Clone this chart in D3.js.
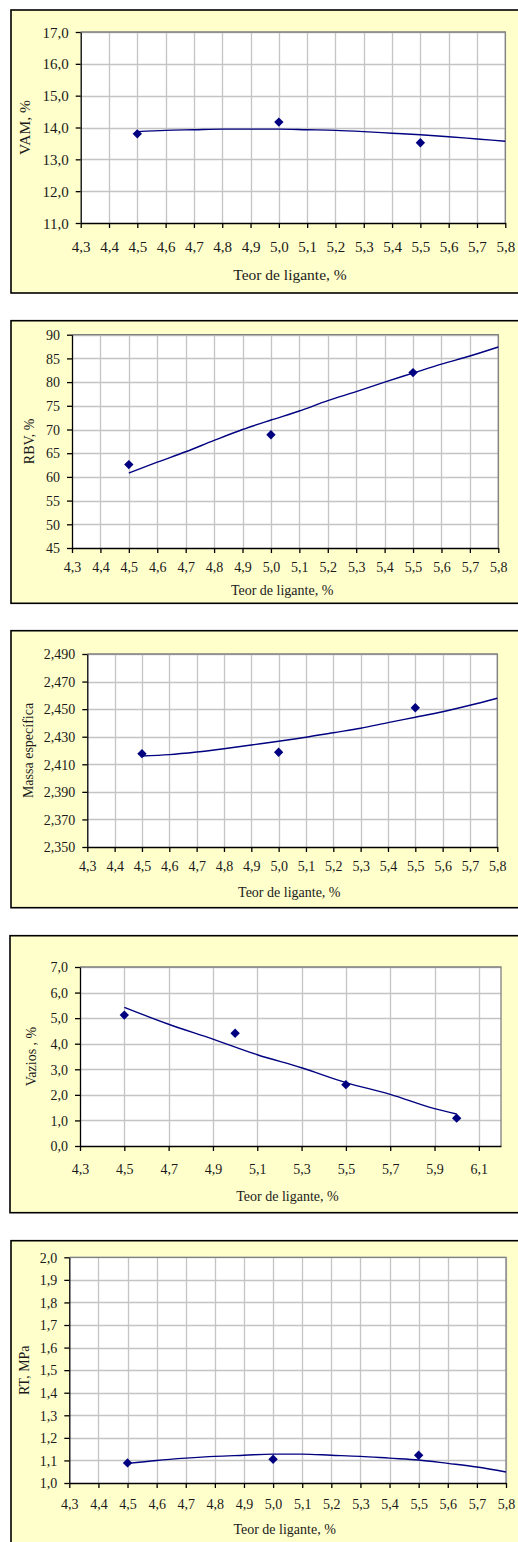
<!DOCTYPE html>
<html>
<head>
<meta charset="utf-8">
<script src="https://cdn.jsdelivr.net/npm/d3@7"></script>
<style>
  html, body { margin: 0; padding: 0; background: #ffffff; }
  svg { display: block; }
  .tick text { font-family: "Liberation Serif", "Times New Roman", serif; fill: #1a1a1a; }
</style>
</head>
<body>
<svg id="chart" width="518" height="1542"></svg>
<script>
// ---- Data: binder content (Teor de ligante, %) vs. mix properties ----
const xLabel = "Teor de ligante, %";

// VAM, %
const vamX = [4.5, 5.0, 5.5];
const vamY = [13.80, 14.17, 13.52];
const vamTrendX = [4.5, 4.6, 4.7, 4.8, 4.9, 5.0, 5.1, 5.2, 5.3, 5.4, 5.5, 5.6, 5.7, 5.8];
const vamTrendY = [13.87, 13.91, 13.93, 13.95, 13.95, 13.95, 13.93, 13.91, 13.87, 13.82, 13.77, 13.71, 13.64, 13.57];
const vamXTicks = [4.3, 4.4, 4.5, 4.6, 4.7, 4.8, 4.9, 5.0, 5.1, 5.2, 5.3, 5.4, 5.5, 5.6, 5.7, 5.8];
const vamYTicks = [11, 12, 13, 14, 15, 16, 17];

// RBV, %
const rbvX = [4.5, 5.0, 5.5];
const rbvY = [62.6, 68.9, 82.0];
const rbvTrendX = [4.5, 4.6, 4.7, 4.8, 4.9, 5.0, 5.1, 5.2, 5.3, 5.4, 5.5, 5.6, 5.7, 5.8];
const rbvTrendY = [60.8, 63.1, 65.3, 67.7, 70.0, 72.0, 73.9, 76.1, 78.0, 80.0, 81.9, 83.8, 85.5, 87.4];
const rbvXTicks = [4.3, 4.4, 4.5, 4.6, 4.7, 4.8, 4.9, 5.0, 5.1, 5.2, 5.3, 5.4, 5.5, 5.6, 5.7, 5.8];
const rbvYTicks = [45, 50, 55, 60, 65, 70, 75, 80, 85, 90];

// Massa específica
const massaX = [4.5, 5.0, 5.5];
const massaY = [2.4177, 2.4187, 2.4510];
const massaTrendX = [4.5, 4.6, 4.7, 4.8, 4.9, 5.0, 5.1, 5.2, 5.3, 5.4, 5.5, 5.6, 5.7, 5.8];
const massaTrendY = [2.4160, 2.4170, 2.4189, 2.4213, 2.4240, 2.4267, 2.4296, 2.4329, 2.4361, 2.4402, 2.4441, 2.4481, 2.4528, 2.4579];
const massaXTicks = [4.3, 4.4, 4.5, 4.6, 4.7, 4.8, 4.9, 5.0, 5.1, 5.2, 5.3, 5.4, 5.5, 5.6, 5.7, 5.8];
const massaYTicks = [2.35, 2.37, 2.39, 2.41, 2.43, 2.45, 2.47, 2.49];

// Vazios, %
const vaziosX = [4.5, 5.0, 5.5, 6.0];
const vaziosY = [5.12, 4.41, 2.40, 1.09];
const vaziosTrendX = [4.5, 4.7, 4.9, 5.1, 5.3, 5.5, 5.7, 5.9, 6.0];
const vaziosTrendY = [5.42, 4.76, 4.18, 3.57, 3.06, 2.48, 2.02, 1.46, 1.25];
const vaziosXTicks = [4.3, 4.5, 4.7, 4.9, 5.1, 5.3, 5.5, 5.7, 5.9, 6.1];
const vaziosYTicks = [0, 1, 2, 3, 4, 5, 6, 7];

// RT, MPa
const rtX = [4.5, 5.0, 5.5];
const rtY = [1.089, 1.105, 1.123];
const rtTrendX = [4.5, 4.6, 4.7, 4.8, 4.9, 5.0, 5.1, 5.2, 5.3, 5.4, 5.5, 5.6, 5.7, 5.8];
const rtTrendY = [1.087, 1.100, 1.110, 1.118, 1.123, 1.128, 1.128, 1.123, 1.118, 1.110, 1.102, 1.087, 1.071, 1.049];
const rtXTicks = [4.3, 4.4, 4.5, 4.6, 4.7, 4.8, 4.9, 5.0, 5.1, 5.2, 5.3, 5.4, 5.5, 5.6, 5.7, 5.8];
const rtYTicks = [1.0, 1.1, 1.2, 1.3, 1.4, 1.5, 1.6, 1.7, 1.8, 1.9, 2.0];

// ---- Number formatting with decimal comma ----
const ptBR = d3.formatLocale({ decimal: ",", thousands: ".", grouping: [3], currency: ["R$", ""] });

// ---- Panel definitions (data + layout) ----
const panels = [
  { yTitle: "VAM, %", x: vamX, y: vamY, tx: vamTrendX, ty: vamTrendY,
    xTicks: vamXTicks, yTicks: vamYTicks, xDomain: [4.3, 5.8], yDomain: [11, 17], yFmt: ".1f",
    frame: [11, 10, 540, 283], plot: { l: 80.7, r: 505.3, t: 32, b: 223 },
    tickY: 247, titleY: 275, yTitleX: 25, fs: 15, tfs: 15.5 },
  { yTitle: "RBV, %", x: rbvX, y: rbvY, tx: rbvTrendX, ty: rbvTrendY,
    xTicks: rbvXTicks, yTicks: rbvYTicks, xDomain: [4.3, 5.8], yDomain: [45, 90], yFmt: "d",
    frame: [11, 320.7, 540, 282.6], plot: { l: 72, r: 498.3, t: 334.7, b: 548 },
    tickY: 567, titleY: 590.5, yTitleX: 30, fs: 14, tfs: 14 },
  { yTitle: "Massa específica", x: massaX, y: massaY, tx: massaTrendX, ty: massaTrendY,
    xTicks: massaXTicks, yTicks: massaYTicks, xDomain: [4.3, 5.8], yDomain: [2.35, 2.49], yFmt: ".3f",
    frame: [11, 630.7, 540, 277], plot: { l: 87.3, r: 497.3, t: 654, b: 847 },
    tickY: 866.7, titleY: 892.5, yTitleX: 28.5, fs: 14, tfs: 14 },
  { yTitle: "Vazios , %", x: vaziosX, y: vaziosY, tx: vaziosTrendX, ty: vaziosTrendY,
    xTicks: vaziosXTicks, yTicks: vaziosYTicks, xDomain: [4.3, 6.2], yDomain: [0, 7], yFmt: ".1f",
    frame: [10, 935.7, 540, 277], plot: { l: 80, r: 501, t: 967, b: 1146 },
    tickY: 1169.3, titleY: 1196.5, yTitleX: 31.5, fs: 14, tfs: 14 },
  { yTitle: "RT, MPa", x: rtX, y: rtY, tx: rtTrendX, ty: rtTrendY,
    xTicks: rtXTicks, yTicks: rtYTicks, xDomain: [4.3, 5.8], yDomain: [1.0, 2.0], yFmt: ".1f",
    frame: [11, 1240.7, 540, 340], plot: { l: 69.3, r: 506, t: 1257.3, b: 1483 },
    tickY: 1504, titleY: 1530, yTitleX: 25, fs: 14, tfs: 14 }
];

const svg = d3.select("#chart");
const serif = '"Liberation Serif", "Times New Roman", serif';
const navy = "#000080";

panels.forEach(p => {
  const g = svg.append("g");
  const [fx, fy, fw, fh] = p.frame;

  // Outer chart area
  g.append("rect")
    .attr("x", fx).attr("y", fy).attr("width", fw).attr("height", fh)
    .attr("fill", "#ffffcc").attr("stroke", "#000").attr("stroke-width", 1.6);

  const x = d3.scaleLinear().domain(p.xDomain).range([p.plot.l, p.plot.r]);
  const y = d3.scaleLinear().domain(p.yDomain).range([p.plot.b, p.plot.t]);

  // Plot area
  g.append("rect")
    .attr("x", p.plot.l).attr("y", p.plot.t)
    .attr("width", p.plot.r - p.plot.l).attr("height", p.plot.b - p.plot.t)
    .attr("fill", "#ffffff");

  // Gridlines
  g.append("g").selectAll("line").data(p.xTicks.filter(v => v > p.xDomain[0]))
    .join("line")
    .attr("x1", d => Math.round(x(d)) + 0.5).attr("x2", d => Math.round(x(d)) + 0.5)
    .attr("y1", p.plot.t).attr("y2", p.plot.b)
    .attr("stroke", "#c4c4c4").attr("stroke-width", 1.3);
  g.append("g").selectAll("line").data(p.yTicks.filter(v => v > p.yDomain[0]))
    .join("line")
    .attr("x1", p.plot.l).attr("x2", p.plot.r)
    .attr("y1", d => Math.round(y(d)) + 0.5).attr("y2", d => Math.round(y(d)) + 0.5)
    .attr("stroke", "#c4c4c4").attr("stroke-width", 1.3);

  // Plot area border (top and right)
  g.append("path")
    .attr("d", `M${p.plot.l},${p.plot.t}H${p.plot.r}V${p.plot.b}`)
    .attr("fill", "none").attr("stroke", "#808080").attr("stroke-width", 1.3);

  // Axes
  const yAxis = d3.axisLeft(y).tickValues(p.yTicks)
    .tickFormat(ptBR.format(p.yFmt)).tickSizeInner(5).tickSizeOuter(0).tickPadding(7);
  const xAxis = d3.axisBottom(x).tickValues(p.xTicks)
    .tickFormat(ptBR.format(".1f")).tickSizeInner(5).tickSizeOuter(0).tickPadding(0);

  const ya = g.append("g").attr("transform", `translate(${p.plot.l},0)`).call(yAxis);
  ya.select(".domain").attr("stroke", "#000").attr("stroke-width", 1.3);
  ya.selectAll(".tick line").attr("stroke", "#000").attr("stroke-width", 1.3);
  ya.selectAll(".tick text")
    .attr("font-size", p.fs).attr("font-family", serif)
    .attr("dy", "0.34em");

  const xa = g.append("g").attr("transform", `translate(0,${p.plot.b})`).call(xAxis);
  xa.select(".domain").attr("stroke", "#000").attr("stroke-width", 1.3);
  xa.selectAll(".tick line").attr("stroke", "#000").attr("stroke-width", 1.3);
  xa.selectAll(".tick text")
    .attr("font-size", p.fs).attr("font-family", serif)
    .attr("y", p.tickY - p.plot.b).attr("dy", "0.34em");

  // Axis titles
  g.append("text")
    .attr("x", (p.plot.l + p.plot.r) / 2 - 3).attr("y", p.titleY)
    .attr("dy", "0.32em").attr("text-anchor", "middle")
    .attr("font-family", serif).attr("font-size", p.tfs).attr("fill", "#1a1a1a")
    .text(xLabel);
  g.append("text")
    .attr("transform", `translate(${p.yTitleX},${(p.plot.t + p.plot.b) / 2}) rotate(-90)`)
    .attr("dy", "0.32em").attr("text-anchor", "middle")
    .attr("font-family", serif).attr("font-size", p.tfs).attr("fill", "#1a1a1a")
    .text(p.yTitle);

  // Trend line
  const trend = p.tx.map((v, i) => [v, p.ty[i]]);
  g.append("path")
    .datum(trend)
    .attr("d", d3.line().x(d => x(d[0])).y(d => y(d[1])).curve(d3.curveMonotoneX))
    .attr("fill", "none").attr("stroke", navy).attr("stroke-width", 1.4);

  // Measured points (diamonds)
  const pts = p.x.map((v, i) => [v, p.y[i]]);
  g.append("g").selectAll("path").data(pts).join("path")
    .attr("d", d3.symbol(d3.symbolSquare, 44))
    .attr("transform", d => `translate(${x(d[0])},${y(d[1])}) rotate(45)`)
    .attr("fill", navy);
});
</script>
</body>
</html>
